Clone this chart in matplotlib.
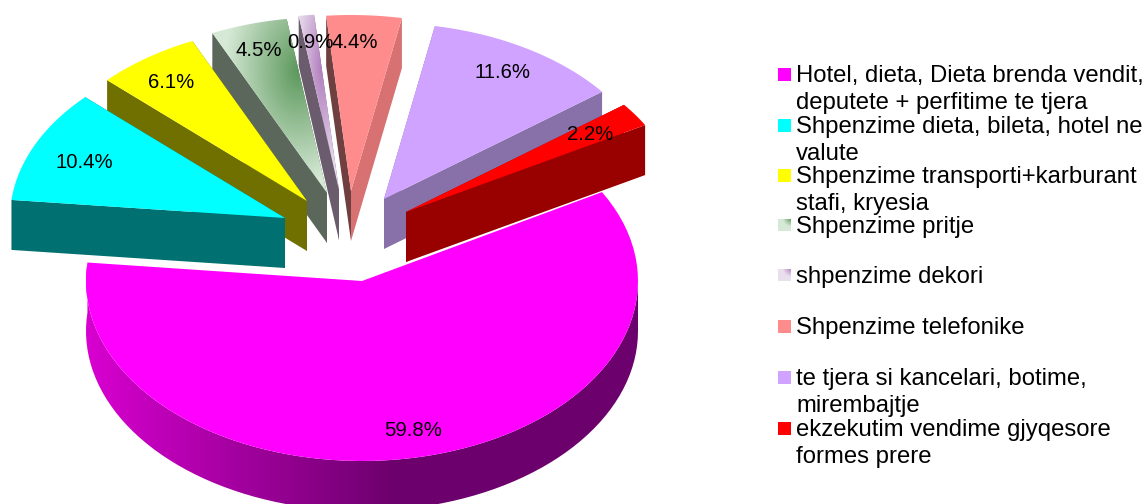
import numpy as np
import matplotlib
matplotlib.use('Agg')
import matplotlib.pyplot as plt
from matplotlib.colors import LinearSegmentedColormap
from matplotlib.patches import Polygon, Rectangle

plt.rcParams['font.family'] = ['Liberation Sans', 'DejaVu Sans']

# data
values = [59.8, 10.4, 6.1, 4.5, 0.9, 4.4, 11.6, 2.2]
names = [
    ['Hotel, dieta, Dieta brenda vendit,', 'deputete + perfitime te tjera'],
    ['Shpenzime dieta, bileta, hotel ne', 'valute'],
    ['Shpenzime transporti+karburant', 'stafi, kryesia'],
    ['Shpenzime pritje'],
    ['shpenzime dekori'],
    ['Shpenzime telefonike'],
    ['te tjera si kancelari, botime,', 'mirembajtje'],
    ['ekzekutim vendime gjyqesore', 'formes prere'],
]

# colours
top_colors = ['#FF00FF', '#00FFFF', '#FFFF00', None, None, '#FF8C8C', '#CFA3FF', '#FF0000']
high_face = ['#700070', '#007070', '#707000', '#5C675C', '#6A5C6C', '#703F3F', '#8870A8', '#990000']
low_face = ['#700070', '#007070', '#707000', '#5C675C', '#6A5C6C', '#D87272', '#8870A8', '#990000']
gradients = {3: ('#D6E9D6', '#5C985C'), 4: ('#EADFEE', '#B07CBE')}

# layout, in pixels of the picture
cx, cy, rx, ry, depth = 362, 281, 276, 180, 50
small_rx, small_ry = 275, 176
start_angle = 29.6
offsets = [(0, 0), (-77, -63), (-55, -80), (-35, -88), (-23, -91), (-11, -90), (22, -82), (44, -69)]
label_pos = [(413, 431), (84, 163), (171, 82), (259, 51), (310, 43), (355, 43), (503, 72), (590, 135)]
draw_order = [0, 5, 4, 3, 2, 1, 6, 7]
swatch_y = [74, 125, 175, 225, 275, 326, 377, 428]

fig = plt.figure(figsize=(11.47, 5.04), dpi=100)
ax = fig.add_axes([0, 0, 1, 1])


def arc(x0, y0, a0, a1, w, h, n=80):
    a = np.radians(np.linspace(a0, a1, n))
    return np.column_stack([x0 + w * np.cos(a), y0 - h * np.sin(a)])


def image_fill(poly, data, cmap, zorder):
    # paint an array over the polygon box and clip it to the polygon
    x0, y0 = poly.min(axis=0)
    x1, y1 = poly.max(axis=0)
    im = ax.imshow(data, cmap=cmap, vmin=0, vmax=1, extent=(x0, x1, y1, y0),
                   aspect='auto', interpolation='bilinear', zorder=zorder)
    patch = Polygon(poly, closed=True, transform=ax.transData, fc='none', ec='none')
    ax.add_patch(patch)
    im.set_clip_path(patch)


def corner_gradient(poly, focus, colors, zorder):
    x0, y0 = poly.min(axis=0)
    x1, y1 = poly.max(axis=0)
    xx, yy = np.meshgrid(np.linspace(x0, x1, 120), np.linspace(y0, y1, 160))
    d = np.hypot((xx - focus[0]) / ((x1 - x0) * 0.65), (yy - focus[1]) / ((y1 - y0) * 0.65))
    cmap = LinearSegmentedColormap.from_list('g', list(colors))
    image_fill(poly, np.clip(d, 0, 1), cmap, zorder)


# angles come from the values, going clockwise
edges = start_angle - np.cumsum([0] + values) * 360 / sum(values)

z = 2
for i in draw_order:
    a_low = edges[i + 1] % 360
    a_high = a_low + (edges[i] - edges[i + 1])
    x0, y0 = cx + offsets[i][0], cy + offsets[i][1]
    apex = np.array([x0, y0])
    down = np.array([0, depth])
    if i == 0:
        rim = arc(x0, y0, a_low, a_high, rx, ry)
    else:
        rim = arc(x0, y0, a_low, a_high, small_rx, small_ry)

    if i == 0:
        # outer wall of the big slice, shaded from left to right
        wall = arc(x0, y0, a_low, 360, rx, ry)
        poly = np.vstack([wall, wall[::-1] + down])
        xs = np.linspace(poly[:, 0].min(), poly[:, 0].max(), 300)
        shade = np.clip((xs - xs[0]) / 310, 0, 1)[None, :]
        cmap = LinearSegmentedColormap.from_list('wall', ['#D800D0', '#6C006C'])
        image_fill(poly, shade, cmap, z)
        z += 1
    else:
        for corner, col in [(rim[0], low_face[i]), (rim[-1], high_face[i])]:
            face = np.array([corner, apex, apex + down, corner + down])
            ax.add_patch(Polygon(face, closed=True, fc=col, ec='none', zorder=z))
            z += 1

    top = np.vstack([apex, rim])
    if i in gradients:
        focus = apex + (rim[0] - apex) * 0.7
        corner_gradient(top, focus, gradients[i][::-1], z)
    else:
        ax.add_patch(Polygon(top, closed=True, fc=top_colors[i], ec='none', zorder=z))
    z += 1

for v, (x, y) in zip(values, label_pos):
    ax.text(x, y, '%.1f%%' % v, ha='center', va='center', fontsize=14.7, color='black', zorder=100)

# legend
for i, rows in enumerate(names):
    y = swatch_y[i]
    if i in gradients:
        sq = np.array([(778, y - 6.5), (791, y - 6.5), (791, y + 6.5), (778, y + 6.5)])
        corner_gradient(sq, (791, y - 6.5), gradients[i][::-1], 50)
    else:
        ax.add_patch(Rectangle((778, y - 6.5), 13, 13, fc=top_colors[i], ec='none', zorder=50))
    for j, row in enumerate(rows):
        ax.text(796, y + 8 + 27 * j, row, ha='left', va='baseline', fontsize=17.2, color='black', zorder=100)

ax.set_xlim(0, 1147)
ax.set_ylim(504, 0)
ax.axis('off')

fig.savefig('out.png', dpi=100, facecolor='white')
